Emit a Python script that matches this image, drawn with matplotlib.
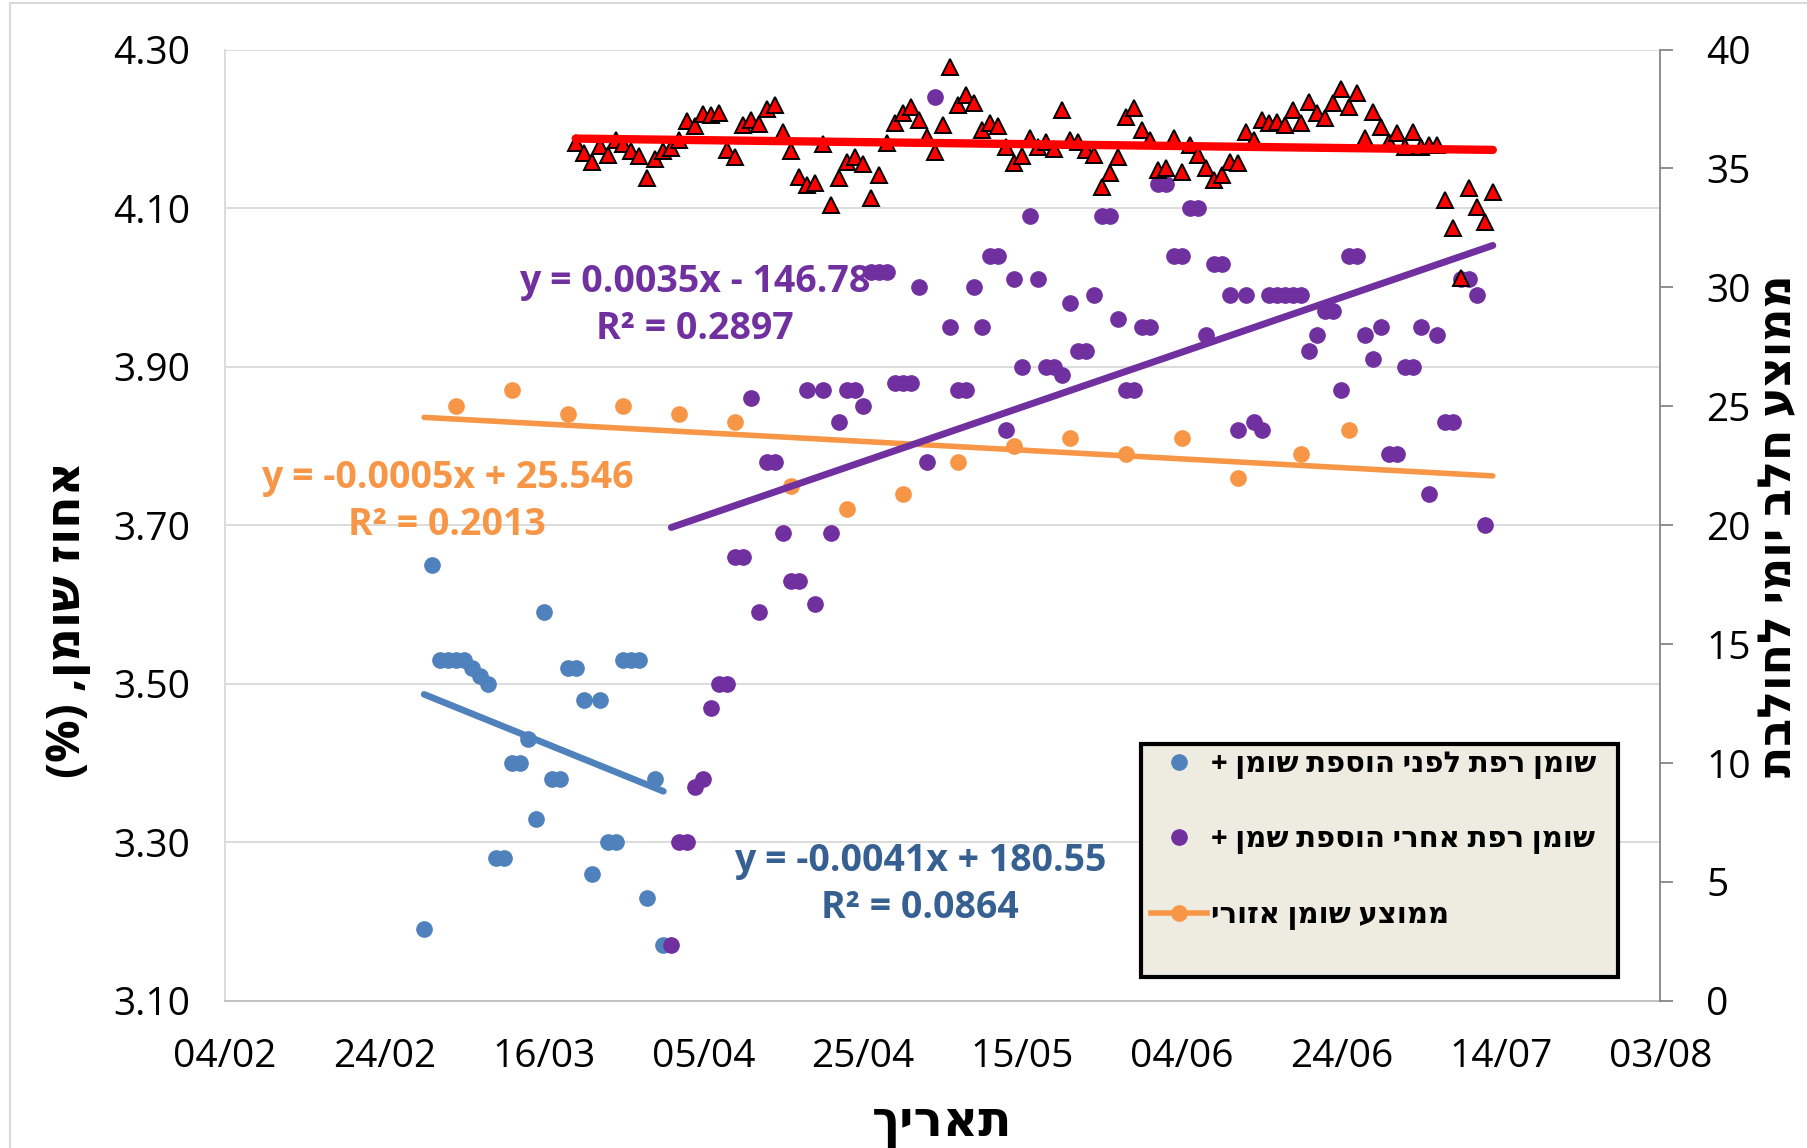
import numpy as np
import pandas as pd
import matplotlib
matplotlib.use("Agg")
import matplotlib.pyplot as plt
import matplotlib.dates as mdates
from matplotlib.lines import Line2D
from matplotlib.patches import Rectangle

# --- 1. DATA ---
# fat % before adding fat, one reading per day from 01/03
BLUE_START = "2018-03-01"
blue_fat = [3.19, 3.65, 3.53, 3.53, 3.53, 3.53, 3.52, 3.51, 3.50, 3.28,
            3.28, 3.40, 3.40, 3.43, 3.33, 3.59, 3.38, 3.38, 3.52, 3.52,
            3.48, 3.26, 3.48, 3.30, 3.30, 3.53, 3.53, 3.53, 3.23, 3.38,
            3.17]

# fat % after adding fat, one reading per day from 01/04 (05/05 missing)
PURPLE_START = "2018-04-01"
purple_fat = [3.17, 3.30, 3.30, 3.37, 3.38, 3.47, 3.50, 3.50, 3.66, 3.66,
              3.86, 3.59, 3.78, 3.78, 3.69, 3.63, 3.63, 3.87, 3.60, 3.87,
              3.69, 3.83, 3.87, 3.87, 3.85, 4.02, 4.02, 4.02, 3.88, 3.88,
              3.88, 4.00, 3.78, 4.24, np.nan, 3.95, 3.87, 3.87, 4.00, 3.95,
              4.04, 4.04, 3.82, 4.01, 3.90, 4.09, 4.01, 3.90, 3.90, 3.89,
              3.98, 3.92, 3.92, 3.99, 4.09, 4.09, 3.96, 3.87, 3.87, 3.95,
              3.95, 4.13, 4.13, 4.04, 4.04, 4.10, 4.10, 3.94, 4.03, 4.03,
              3.99, 3.82, 3.99, 3.83, 3.82, 3.99, 3.99, 3.99, 3.99, 3.99,
              3.92, 3.94, 3.97, 3.97, 3.87, 4.04, 4.04, 3.94, 3.91, 3.95,
              3.79, 3.79, 3.90, 3.90, 3.95, 3.74, 3.94, 3.83, 3.83, 4.01,
              4.01, 3.99, 3.70]

# regional average fat %, weekly
orange_dates = ["2018-03-05", "2018-03-12", "2018-03-19", "2018-03-26",
                "2018-04-02", "2018-04-09", "2018-04-16", "2018-04-23",
                "2018-04-30", "2018-05-07", "2018-05-14", "2018-05-21",
                "2018-05-28", "2018-06-04", "2018-06-11", "2018-06-19",
                "2018-06-25"]
orange_fat = [3.85, 3.87, 3.84, 3.85, 3.84, 3.83, 3.75, 3.72, 3.74, 3.78,
              3.80, 3.81, 3.79, 3.81, 3.76, 3.79, 3.82]

# daily milk per cow (right axis), one reading per day from 20/03
RED_START = "2018-03-20"
red_milk = [36.06, 35.67, 35.29, 35.95, 35.57, 36.20, 36.02, 35.74, 35.53, 34.61,
            35.39, 35.74, 35.85, 36.20, 37.00, 36.79, 37.28, 37.25, 37.35, 35.78,
            35.47, 36.83, 37.04, 36.86, 37.49, 37.67, 36.55, 35.75, 34.66, 34.31,
            34.40, 36.02, 33.47, 34.61, 35.29, 35.47, 35.18, 33.77, 34.73, 36.06,
            36.93, 37.32, 37.57, 37.04, 36.34, 35.71, 36.83, 39.28, 37.67, 38.09,
            37.77, 36.62, 36.90, 36.79, 35.92, 35.25, 35.53, 36.27, 35.90, 36.10,
            35.80, 37.46, 36.20, 36.13, 35.78, 35.57, 34.24, 34.80, 35.50, 37.18,
            37.53, 36.62, 36.20, 34.94, 35.01, 36.27, 34.87, 35.99, 35.57, 35.01,
            34.52, 34.73, 35.29, 35.22, 36.55, 36.20, 37.04, 36.90, 36.97, 36.83,
            37.46, 36.90, 37.81, 37.32, 37.11, 37.74, 38.33, 37.57, 38.16, 36.27,
            37.39, 36.76, 36.13, 36.48, 35.92, 36.55, 35.90, 36.00, 36.00, 33.68,
            32.48, 30.38, 34.17, 33.39, 32.76, 34.03]

# trend line spans as drawn in the chart
ORANGE_TREND = ("2018-03-01", "2018-07-13")
PURPLE_TREND = ("2018-04-01", "2018-07-13")

eq_purple = "y = 0.0035x - 146.78\nR² = 0.2897"
eq_orange = "y = -0.0005x + 25.546\nR² = 0.2013"
eq_blue = "y = -0.0041x + 180.55\nR² = 0.0864"

legend_labels = ["שומן רפת לפני הוספת שומן +",
                 "שומן רפת אחרי הוספת שמן +",
                 "ממוצע שומן אזורי"]

BLUE = '#4F81BD'
PURPLE = '#7030A0'
ORANGE = '#F79646'
RED = '#FF0000'
FONT = ['Open Sans', 'DejaVu Sans']


def heb(s):
    # matplotlib has no bidi: put Hebrew in visual order
    return s[::-1].translate(str.maketrans("()", ")("))


def trend(ax, dates, values, span, **kw):
    x = mdates.date2num(pd.to_datetime(dates))
    y = np.asarray(values, dtype=float)
    ok = ~np.isnan(y)
    coef = np.polyfit(x[ok], y[ok], 1)
    xs = mdates.date2num(pd.to_datetime(list(span)))
    ax.plot(mdates.num2date(xs), np.polyval(coef, xs), solid_capstyle='round', **kw)


blue_dates = pd.date_range(BLUE_START, periods=len(blue_fat), freq="D")
purple_dates = pd.date_range(PURPLE_START, periods=len(purple_fat), freq="D")
red_dates = pd.date_range(RED_START, periods=len(red_milk), freq="D")
orange_x = pd.to_datetime(orange_dates)

plt.rcParams['font.family'] = FONT

# --- 2. FIGURE ---
fig = plt.figure(figsize=(18.08, 11.48), dpi=100)
ax = fig.add_axes([0.1243, 0.1282, 0.7940, 0.8286])
ax2 = ax.twinx()

# left axis: fat %
ax.plot(blue_dates, blue_fat, ls='none', marker='o', ms=11, color=BLUE, zorder=3)
ax.plot(purple_dates, purple_fat, ls='none', marker='o', ms=11, color=PURPLE, zorder=3)
ax.plot(orange_x, orange_fat, ls='none', marker='o', ms=11, color=ORANGE, zorder=3)

trend(ax, orange_x, orange_fat, ORANGE_TREND, color=ORANGE, lw=4, zorder=4)
trend(ax, purple_dates, purple_fat, PURPLE_TREND, color=PURPLE, lw=5, zorder=4)
trend(ax, blue_dates, blue_fat, (blue_dates[0], blue_dates[-1]), color=BLUE, lw=4.8, zorder=4)

# right axis: milk per cow
ax2.plot(red_dates, red_milk, ls='none', marker='^', ms=11, markerfacecolor=RED,
         markeredgecolor='black', markeredgewidth=1.4, zorder=3)
trend(ax2, red_dates, red_milk, (red_dates[0], red_dates[-1]), color=RED, lw=6, zorder=4)

# axes
ax.set_xlim(pd.Timestamp("2018-02-04"), pd.Timestamp("2018-08-03"))
ax.set_xticks(pd.date_range("2018-02-04", "2018-08-03", freq="20D"))
ax.xaxis.set_major_formatter(mdates.DateFormatter('%d/%m'))
ax.set_ylim(3.10, 4.30)
ax.set_yticks(np.arange(3.10, 4.31, 0.20))
ax.yaxis.set_major_formatter(plt.FormatStrFormatter('%.2f'))
ax2.set_ylim(0, 40)
ax2.set_yticks(np.arange(0, 41, 5))

ax.yaxis.grid(True, color='#D9D9D9', lw=1.3)
ax.set_axisbelow(True)
ax.tick_params(axis='y', length=0, pad=25, labelsize=28)
ax.tick_params(axis='x', length=0, pad=27, labelsize=28)
ax2.tick_params(axis='y', direction='out', length=9, width=1.3, color='#868686',
                pad=24, labelsize=28)

for side in ['top', 'right']:
    ax.spines[side].set_visible(False)
ax.spines['left'].set_color('#D9D9D9')
ax.spines['bottom'].set_color('#BFBFBF')
ax.spines['left'].set_linewidth(1.3)
ax.spines['bottom'].set_linewidth(1.3)
for side in ['top', 'left', 'bottom']:
    ax2.spines[side].set_visible(False)
ax2.spines['right'].set_color('#868686')
ax2.spines['right'].set_linewidth(1.3)

ax.set_xlabel(heb("תאריך"), fontsize=35, fontweight='bold')
ax.xaxis.set_label_coords(0.50, -0.103)
ax.set_ylabel(heb("אחוז שומן, (%)"), fontsize=34, fontweight='bold')
ax.yaxis.set_label_coords(-0.093, 0.401)
ax2.set_ylabel(heb("ממוצע חלב יומי לחולבת"), fontsize=33, fontweight='bold', rotation=90)
ax2.yaxis.set_label_coords(1.066, 0.5)

# trend equations
ax.text(0.3276, 0.731, eq_purple, transform=ax.transAxes, ha='center', va='center',
        color=PURPLE, fontsize=27, fontweight='bold', linespacing=1.3, zorder=2.5)
ax.text(0.155, 0.5248, eq_orange, transform=ax.transAxes, ha='center', va='center',
        color=ORANGE, fontsize=27, fontweight='bold', linespacing=1.3)
ax.text(0.4843, 0.1224, eq_blue, transform=ax.transAxes, ha='center', va='center',
        color='#376092', fontsize=27, fontweight='bold', linespacing=1.3)

# legend
box = Rectangle((0.6383, 0.025), 0.3322, 0.245, transform=ax2.transAxes,
                facecolor='#EEECE1', edgecolor='black', lw=3, zorder=20)
ax2.add_patch(box)
handles = [Line2D([], [], ls='none', marker='o', ms=11, color=BLUE),
           Line2D([], [], ls='none', marker='o', ms=11, color=PURPLE),
           Line2D([], [], ls='-', lw=4, marker='o', ms=11, color=ORANGE)]
leg = ax2.legend(handles, [heb(t) for t in legend_labels], loc='upper left',
                 bbox_to_anchor=(0.6415, 0.270), frameon=False, numpoints=1,
                 prop=dict(family=FONT, weight='bold', size=21),
                 labelspacing=1.6, handlelength=1.9, handletextpad=0.15,
                 borderaxespad=0, borderpad=0.2)
leg.set_zorder(21)

# chart area border
fig.patches.append(Rectangle((0.0058, -0.05), 1.1, 1.047, transform=fig.transFigure,
                             fill=False, edgecolor='#D9D9D9', lw=1.5))

plt.savefig('out.png', dpi=100)
